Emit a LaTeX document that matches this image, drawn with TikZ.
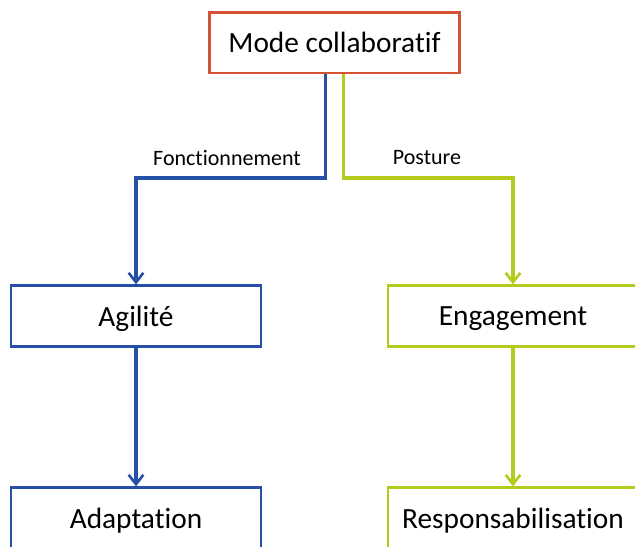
\documentclass[tikz,border=0pt]{standalone}
\usepackage{fontspec}
\setmainfont{Carlito}[Ligatures=NoCommon]
\usetikzlibrary{arrows.meta}
\definecolor{boxred}{RGB}{214,82,52}
\definecolor{flowblue}{RGB}{38,80,165}
\definecolor{flowgreen}{RGB}{180,202,28}
\tikzset{
  box/.style={draw, line width=2pt, fill=white, minimum width=187.5pt, minimum height=45.5pt, inner sep=0pt, text depth=0pt, font=\fontsize{22}{26}\selectfont},
  flow/.style={line width=2.4pt, -{Straight Barb[length=7pt, width=11pt, line width=2pt]}},
  lbl/.style={font=\fontsize{16.5}{20}\selectfont, inner sep=0pt}
}
\begin{document}
\begin{tikzpicture}[x=0.75pt, y=0.75pt]
\useasboundingbox (0,0) rectangle (635,-546);
\node[box, draw=boxred] (mode) at (334.5,-42.5) {Mode collaboratif};
\node[box, draw=flowblue] (agil) at (136,-316) {Agilit\'e};
\node[box, draw=flowgreen] (enga) at (513,-316) {Engagement};
\node[box, draw=flowblue] (adap) at (136,-518) {Adaptation};
\node[box, draw=flowgreen] (resp) at (513,-518) {Responsabilisation};
\coordinate (fl) at (136,-178);
\coordinate (fr) at (513,-178);
% first level
\draw[flow, flowblue] ([xshift=-7pt]mode.south) |- (fl) -- (agil);
\draw[flow, flowgreen] ([xshift=6.5pt]mode.south) |- (fr) -- (enga);
\node[lbl] (fonc) at (227,-158) {Fonctionnement};
\node[lbl] (post) at (427,-158) {Posture};
% second level
\draw[flow, flowblue] (agil) -- (adap);
\draw[flow, flowgreen] (enga) -- (resp);
\end{tikzpicture}
\end{document}
